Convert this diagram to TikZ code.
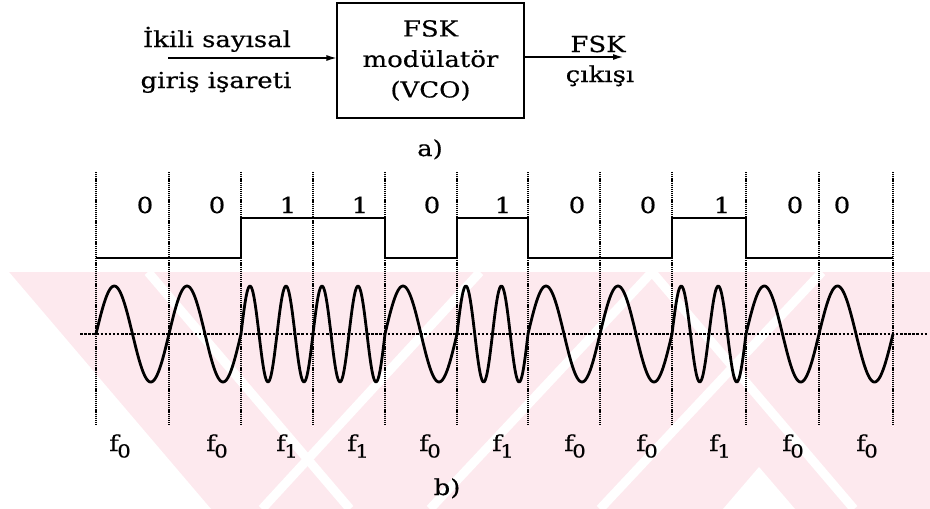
\documentclass[tikz,border=0pt]{standalone}
\usepackage{fontspec}
\setmainfont{DejaVu Serif}[FakeStretch=1.18, FakeBold=0.4]
\usetikzlibrary{arrows.meta}
\definecolor{wm}{RGB}{253,233,238}
\begin{document}
\begin{tikzpicture}[x=1pt,y=-1pt,
  txt/.style={font=\fontsize{22}{26}\selectfont, inner sep=0pt, anchor=base},
  modbox/.style={draw, line width=1.1pt, minimum width=187pt, minimum height=115pt, align=center, inner sep=0pt, font=\fontsize{22}{30.5}\selectfont},
  conn/.style={line width=1.2pt, -{Latex[length=10pt,width=6pt]}},
  vgrid/.style={line width=1.1pt, dash pattern=on 1.2pt off 0.9pt},
  hgrid/.style={line width=1.2pt, dash pattern=on 2.5pt off 1.6pt},
  bitline/.style={line width=1.4pt},
  wave/.style={line width=2.8pt, line cap=round, line join=round},
  seam/.style={white, line width=9pt}
]
\useasboundingbox (0,0) rectangle (930,509);
% watermark
\begin{scope}
\clip (5,272) rectangle (930,509);
\fill[wm] (5,272) rectangle (930,509);
\fill[white] (0,272) -- (9,272) -- (211,509) -- (0,509) -- cycle;
\draw[seam] (148,272) -- (350,509);
\draw[seam] (262,509) -- (480,272);
\draw[seam] (430,509) -- (652,272);
\draw[seam] (600,509) -- (822,272);
\draw[seam] (652,272) -- (854,509);
\fill[white] (723,509) -- (759,467) -- (795,509) -- cycle;
\end{scope}
% block diagram
\node[modbox] (mod) at (430.5,60.5) {FSK\\modülatör\\(VCO)};
\coordinate (in) at (168,58);
\coordinate (out) at (623,57);
\draw[conn] (in) -- (mod.west |- in);
\draw[conn] (mod.east |- out) -- (out);
\node[txt] (in1) at (217,47) {İkili sayısal};
\node[txt] (in2) at (216,88) {giriş işareti};
\node[txt] (o1) at (598,52) {FSK};
\node[txt] (o2) at (600,82) {çıkışı};
\node[txt] (la) at (430,156) {a)};
% grid
\foreach \x [count=\i] in {96,169,241,313,385,457,528,600,672,746,819,893}
  \draw[vgrid] (\x,172) -- (\x,425);
\draw[hgrid] (80,334) -- (928,334);
% bit signal
\draw[bitline] (96,258) -- (241,258) -- (241,218) -- (385,218) -- (385,258) -- (457,258) -- (457,218) -- (528,218) -- (528,258) -- (672,258) -- (672,218) -- (746,218) -- (746,258) -- (893,258);
\foreach \x/\d [count=\i] in {145/0,217/0,288/1,360/1,432/0,503/1,577/0,648/0,722/1,795/0,842/0}
  \node[txt] (bit\i) at (\x,213) {\d};
% waveform
\foreach \a/\b/\k in {96/169/1,169/241/1,241/313/2,313/385/2,385/457/1,457/528/2,528/600/1,600/672/1,672/746/2,746/819/1,819/893/1}
  \draw[wave] plot[domain=0:1, samples=81, smooth] ({\a+(\b-\a)*\x}, {334-48*sin(360*\k*\x)});
% frequency labels
\foreach \x/\d [count=\i] in {120/0,217/0,287/1,358/1,430/0,503/1,575/0,647/0,720/1,793/0,867/0}
  \node[txt] (f\i) at (\x,451) {f\kern-1.5pt\raisebox{-6.5pt}{\fontsize{18}{18}\selectfont\d}};
\node[txt] (lb) at (447,495) {b)};
\end{tikzpicture}
\end{document}
